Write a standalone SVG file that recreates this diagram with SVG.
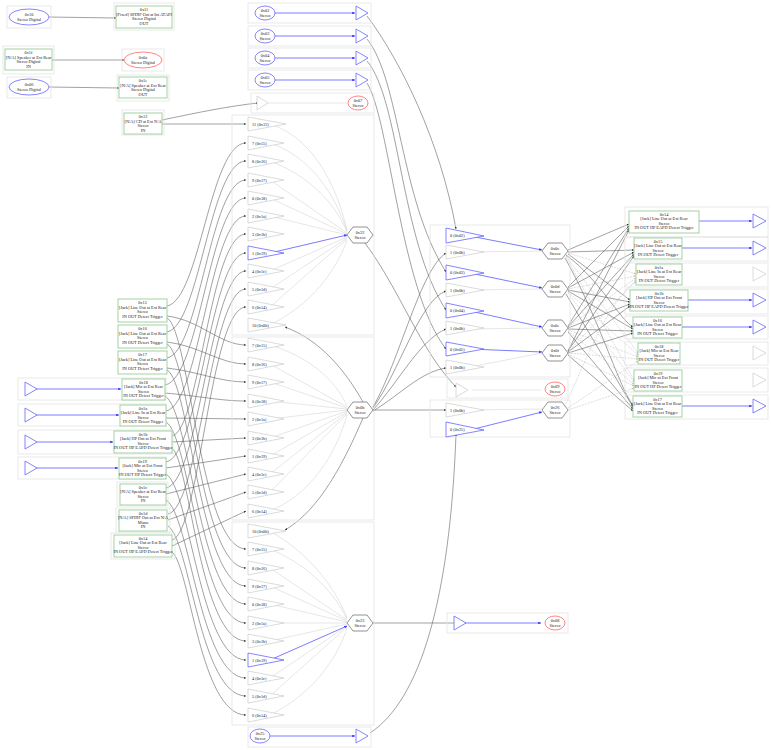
<svg xmlns="http://www.w3.org/2000/svg" width="771" height="750" viewBox="0 0 771 750">
<defs>
<marker id="a" viewBox="0 0 6 6" refX="6" refY="3" markerWidth="4" markerHeight="4" orient="auto"><path d="M0,0L6,3L0,6z" fill="#333"/></marker>
<marker id="ab" viewBox="0 0 6 6" refX="6" refY="3" markerWidth="4" markerHeight="4" orient="auto"><path d="M0,0L6,3L0,6z" fill="#33f"/></marker>
<marker id="al" viewBox="0 0 6 6" refX="6" refY="3" markerWidth="4" markerHeight="4" orient="auto"><path d="M0,0L6,3L0,6z" fill="#bbb"/></marker>
</defs>
<style>
text{font-family:"Liberation Serif",serif;font-size:4.3px;fill:#222;text-anchor:middle}
.l{text-anchor:start}
.g{fill:none;stroke:#e3e3e3;stroke-width:0.8}
.p{fill:#fff;stroke:#9c9;stroke-width:0.9}
.eb{fill:#fff;stroke:#66f;stroke-width:0.8}
.er{fill:#fff;stroke:#f66;stroke-width:0.8}
.tb{fill:#fff;stroke:#66f;stroke-width:0.8}
.tg{fill:#fff;stroke:#ccc;stroke-width:0.7}
.hx{fill:#fff;stroke:#777;stroke-width:0.8}
.c{fill:none;stroke:#555;stroke-width:0.55;marker-end:url(#a)}
.cb{fill:none;stroke:#44f;stroke-width:0.7;marker-end:url(#ab)}
.cl{fill:none;stroke:#ccc;stroke-width:0.5}
.cd{fill:none;stroke:#bbb;stroke-width:0.5;stroke-dasharray:2,1;marker-end:url(#al)}
</style>
<rect width="771" height="750" fill="#fff"/>

<g id="connectors">
<path class="c" d="M49,17L116,18"/>
<path class="c" d="M52,60L124,60"/>
<path class="c" d="M49,87L119,88"/>
<path class="c" d="M162,120C200,112 230,106 258,103"/>
<path class="c" d="M162,124L246,124"/>
<path class="cb" d="M275,13L355,13"/>
<path class="cb" d="M275,36L355,36"/>
<path class="cb" d="M275,58L355,58"/>
<path class="cb" d="M275,80L355,80"/>
<path class="cl" d="M268,103L347,103"/>
<path class="cb" d="M270,736L355,736"/>
<path class="c" d="M367,16C400,60 440,140 456,229"/>
<path class="c" d="M367,39C400,80 400,200 446,272"/>
<path class="c" d="M367,61C400,100 400,240 446,310"/>
<path class="c" d="M367,83C390,120 400,290 446,349"/>
<path class="c" d="M370,733C420,700 450,600 456,434"/>
<g class="cl">
<path d="M270,124C320,140 340,200 347,230"/><path d="M270,143C320,160 340,210 347,231"/><path d="M270,161C320,180 340,215 347,232"/><path d="M270,180L347,233"/><path d="M270,198L347,234"/><path d="M270,216L347,235"/><path d="M270,271L347,237"/><path d="M270,289L347,238"/><path d="M270,307L347,239"/><path d="M270,325C320,300 340,260 347,240"/>
</g>
<path class="cb" d="M270,253L347,235"/>
<g class="cl">
<path d="M270,345C320,360 340,390 347,406"/><path d="M270,364L347,407"/><path d="M270,382L347,408"/><path d="M270,401L347,409"/><path d="M270,419L347,410"/><path d="M270,438L347,411"/><path d="M270,456L347,412"/><path d="M270,474L347,413"/><path d="M270,492L347,414"/><path d="M270,511C320,490 340,440 347,415"/>
</g>
<g class="cl">
<path d="M270,531C320,560 340,600 347,618"/><path d="M270,549C320,570 340,605 347,619"/><path d="M270,568L347,620"/><path d="M270,586L347,621"/><path d="M270,604L347,622"/><path d="M270,623L347,623"/><path d="M270,641L347,624"/><path d="M270,678L347,626"/><path d="M270,696L347,627"/><path d="M270,715C320,690 340,650 347,628"/>
</g>
<path class="cb" d="M270,660L347,626"/>
<path class="c" d="M365,243C400,290 420,350 456,387"/>
<path class="c" d="M373,623L456,623"/>
<path class="cb" d="M462,623L541,623"/>
<path class="cl" d="M472,390L541,390"/>
<path class="c" d="M363,402C345,370 320,340 285,327"/>
<path class="c" d="M363,418C345,460 320,510 285,530"/>
<path class="c" d="M373,407C400,360 420,270 446,253"/>
<path class="c" d="M373,408C400,370 420,300 446,291"/>
<path class="c" d="M373,410C400,380 420,340 446,329"/>
<path class="c" d="M373,411C400,395 420,372 446,368"/>
<path class="c" d="M373,410L446,410"/>
<path class="cb" d="M470,236L542,250"/><path class="cl" d="M470,252L542,251"/>
<path class="cb" d="M470,273L542,288"/><path class="cl" d="M470,290L542,289"/>
<path class="cb" d="M470,311L542,327"/><path class="cl" d="M470,329L542,328"/>
<path class="cb" d="M470,349L542,352"/><path class="cl" d="M470,367L542,353"/>
<path class="cl" d="M470,410L542,409"/><path class="cb" d="M470,430L542,412"/>
<g>
<path class="c" d="M568,250L629,224"/><path class="c" d="M568,252L634,250"/><path class="cd" d="M568,253L636,274"/><path class="c" d="M568,254L630,300"/><path class="c" d="M566,255C600,280 620,320 633,327"/><path class="cd" d="M566,256L638,353"/><path class="cd" d="M566,257L634,380"/><path class="c" d="M565,258C600,320 620,390 633,405"/>
<path class="c" d="M568,287L629,226"/><path class="c" d="M568,288L634,252"/><path class="cd" d="M568,289L636,276"/><path class="c" d="M568,290L630,302"/><path class="c" d="M568,291L633,329"/><path class="cd" d="M568,292L638,355"/><path class="cd" d="M568,293L634,382"/><path class="c" d="M566,294L633,407"/>
<path class="c" d="M568,326L629,228"/><path class="c" d="M568,327L634,254"/><path class="cd" d="M568,327L636,278"/><path class="c" d="M568,328L630,304"/><path class="c" d="M568,329L633,331"/><path class="cd" d="M568,330L638,357"/><path class="cd" d="M568,331L634,384"/><path class="c" d="M568,332L633,409"/>
<path class="c" d="M568,351L629,230"/><path class="c" d="M568,351L634,256"/><path class="cd" d="M568,352L636,280"/><path class="c" d="M568,352L630,306"/><path class="c" d="M568,353L633,333"/><path class="cd" d="M568,353L638,359"/><path class="cd" d="M568,354L634,386"/><path class="c" d="M568,355L633,411"/>
<path class="cd" d="M566,404C590,350 610,300 636,282"/><path class="cd" d="M568,408L638,361"/><path class="cd" d="M568,410L634,388"/>
</g>
<path class="cb" d="M699,221L752,221"/><path class="cb" d="M682,248L752,248"/><path class="cb" d="M688,300L752,300"/><path class="cb" d="M682,327L752,327"/><path class="cb" d="M682,406L752,406"/>
<path class="cb" d="M36,389L121,389"/><path class="cb" d="M36,415L119,415"/><path class="cb" d="M36,442L113,442"/><path class="cb" d="M36,468L118,468"/>
<g class="c">
<path d="M167,306C200,300 210,143 246,143"/><path d="M167,316C200,320 220,345 246,345"/><path d="M167,318C190,330 200,549 246,549"/>
<path d="M167,332C200,326 210,161 246,161"/><path d="M167,342C200,346 220,364 246,364"/><path d="M167,344C190,356 200,568 246,568"/>
<path d="M167,358C200,352 210,180 246,180"/><path d="M167,368C200,372 220,382 246,382"/><path d="M167,370C190,382 200,586 246,586"/>
<path d="M165,385C200,379 210,198 246,198"/><path d="M165,393C200,396 220,401 246,401"/><path d="M165,396C190,410 200,604 246,604"/>
<path d="M166,411C200,405 210,216 246,216"/><path d="M166,418L246,419"/><path d="M166,422C190,436 200,623 246,623"/>
<path d="M172,436C200,430 210,234 246,234"/><path d="M172,442L246,438"/><path d="M172,448C190,462 200,641 246,641"/>
<path d="M166,462C200,456 210,253 246,253"/><path d="M166,468L246,456"/><path d="M166,474C190,488 200,660 246,660"/>
<path d="M166,488C200,482 210,271 246,271"/><path d="M166,494L246,474"/><path d="M166,500C190,514 200,678 246,678"/>
<path d="M168,514C200,508 210,289 246,289"/><path d="M168,520L246,492"/><path d="M168,526C190,540 200,696 246,696"/>
<path d="M172,540C200,534 210,307 246,307"/><path d="M172,546L246,511"/><path d="M172,552C190,566 200,715 246,715"/>
</g>
</g>

<g id="clusters">
<rect class="g" x="7" y="6" width="44" height="22"/>
<rect class="g" x="114" y="3" width="60" height="27"/>
<rect class="g" x="3" y="46" width="51" height="28"/>
<rect class="g" x="122" y="49" width="42" height="22"/>
<rect class="g" x="7" y="77" width="44" height="21"/>
<rect class="g" x="117" y="75" width="52" height="26"/>
<rect class="g" x="122" y="110" width="42" height="25"/>
<rect class="g" x="248" y="3" width="123" height="20"/>
<rect class="g" x="248" y="26" width="123" height="20"/>
<rect class="g" x="248" y="48" width="123" height="20"/>
<rect class="g" x="248" y="70" width="123" height="20"/>
<rect class="g" x="251" y="93" width="123" height="20"/>
<rect class="g" x="232" y="115" width="142" height="220"/>
<rect class="g" x="232" y="337" width="142" height="183"/>
<rect class="g" x="232" y="522" width="142" height="203"/>
<rect class="g" x="248" y="727" width="123" height="20"/>
<rect class="g" x="430" y="225" width="140" height="152"/>
<rect class="g" x="447" y="379" width="121" height="19"/>
<rect class="g" x="430" y="400" width="140" height="37"/>
<rect class="g" x="447" y="613" width="121" height="20"/>
<rect class="g" x="18" y="378" width="148" height="22"/>
<rect class="g" x="18" y="404" width="148" height="22"/>
<rect class="g" x="18" y="430" width="155" height="24"/>
<rect class="g" x="18" y="457" width="148" height="22"/>
<rect class="g" x="625" y="207" width="143" height="30"/>
<rect class="g" x="625" y="237" width="143" height="24"/>
<rect class="g" x="625" y="263" width="143" height="24"/>
<rect class="g" x="625" y="289" width="143" height="25"/>
<rect class="g" x="625" y="316" width="143" height="23"/>
<rect class="g" x="625" y="342" width="143" height="23"/>
<rect class="g" x="625" y="368" width="143" height="24"/>
<rect class="g" x="625" y="395" width="143" height="24"/>
</g>

<g id="n10"><ellipse class="eb" cx="29" cy="17" rx="20" ry="8"/><text x="29" y="16">0x10</text><text x="29" y="20.5">Stereo Digital</text></g>
<g id="n11"><rect class="p" x="116" y="6" width="56" height="22"/><text x="144" y="11">0x11</text><text x="144" y="15.5">[Fixed] SPDIF Out at Int ATAPI</text><text x="144" y="20">Stereo Digital</text><text x="144" y="24.5">OUT</text></g>
<g id="n1f"><rect class="p" x="5" y="49" width="47" height="21"/><text x="28.5" y="54">0x1f</text><text x="28.5" y="58.5">[N/A] Speaker at Ext Rear</text><text x="28.5" y="63">Stereo Digital</text><text x="28.5" y="67.5">IN</text></g>
<g id="n0a"><ellipse class="er" cx="143" cy="60" rx="19" ry="8"/><text x="143" y="59">0x0a</text><text x="143" y="63.5">Stereo Digital</text></g>
<g id="n06"><ellipse class="eb" cx="29" cy="87" rx="20" ry="8"/><text x="29" y="86">0x06</text><text x="29" y="90.5">Stereo Digital</text></g>
<g id="n1e"><rect class="p" x="119" y="77" width="48" height="21"/><text x="143" y="82">0x1e</text><text x="143" y="86.5">[N/A] Speaker at Ext Rear</text><text x="143" y="91">Stereo Digital</text><text x="143" y="95.5">OUT</text></g>
<g id="n12"><rect class="p" x="124" y="113" width="38" height="21"/><text x="143" y="118">0x12</text><text x="143" y="122.5">[N/A] CD at Ext N/A</text><text x="143" y="127">Stereo</text><text x="143" y="131.5">IN</text></g>

<g id="n02"><ellipse class="eb" cx="265" cy="13" rx="10" ry="7"/><text x="265" y="12">0x02</text><text x="265" y="16.5">Stereo</text><polygon class="tb" points="356,6 368,13 356,20"/></g>
<g id="n03"><ellipse class="eb" cx="265" cy="36" rx="10" ry="7"/><text x="265" y="35">0x03</text><text x="265" y="39.5">Stereo</text><polygon class="tb" points="356,29 368,36 356,43"/></g>
<g id="n04"><ellipse class="eb" cx="265" cy="58" rx="10" ry="7"/><text x="265" y="57">0x04</text><text x="265" y="61.5">Stereo</text><polygon class="tb" points="356,51 368,58 356,65"/></g>
<g id="n05"><ellipse class="eb" cx="265" cy="80" rx="10" ry="7"/><text x="265" y="79">0x05</text><text x="265" y="83.5">Stereo</text><polygon class="tb" points="356,73 368,80 356,87"/></g>
<g id="n07"><polygon class="tg" points="257,96 268,103 257,110"/><ellipse class="er" cx="358" cy="103" rx="10" ry="7"/><text x="358" y="102">0x07</text><text x="358" y="106.5">Stereo</text></g>
<g id="n25"><ellipse class="eb" cx="260" cy="736" rx="10" ry="7"/><text x="260" y="735">0x25</text><text x="260" y="739.5">Stereo</text><polygon class="tb" points="356,729 368,736 356,743"/></g>

<g id="n22">
<polygon class="tg" points="248,117 286,124 248,131"/><text class="l" x="252" y="125.5">11 (0x12)</text>
<polygon class="tg" points="248,136 284,143 248,150"/><text class="l" x="252" y="144.5">7 (0x15)</text>
<polygon class="tg" points="248,154 284,161 248,168"/><text class="l" x="252" y="162.5">8 (0x16)</text>
<polygon class="tg" points="248,173 284,180 248,187"/><text class="l" x="252" y="181.5">9 (0x17)</text>
<polygon class="tg" points="248,191 284,198 248,205"/><text class="l" x="252" y="199.5">0 (0x18)</text>
<polygon class="tg" points="248,209 284,216 248,223"/><text class="l" x="252" y="217.5">2 (0x1a)</text>
<polygon class="tg" points="248,227 284,234 248,241"/><text class="l" x="252" y="235.5">3 (0x1b)</text>
<polygon class="tb" points="248,246 284,253 248,260"/><text class="l" x="252" y="254.5">1 (0x19)</text>
<polygon class="tg" points="248,264 284,271 248,278"/><text class="l" x="252" y="272.5">4 (0x1c)</text>
<polygon class="tg" points="248,282 284,289 248,296"/><text class="l" x="252" y="290.5">5 (0x1d)</text>
<polygon class="tg" points="248,300 284,307 248,314"/><text class="l" x="252" y="308.5">6 (0x14)</text>
<polygon class="tg" points="248,318 286,325 248,332"/><text class="l" x="252" y="326.5">10 (0x0b)</text>
<polygon class="hx" points="347,235 353,227 367,227 373,235 367,243 353,243"/><text x="360" y="234">0x22</text><text x="360" y="238.5">Stereo</text>
</g>
<g id="n0b">
<polygon class="tg" points="248,338 284,345 248,352"/><text class="l" x="252" y="346.5">7 (0x15)</text>
<polygon class="tg" points="248,357 284,364 248,371"/><text class="l" x="252" y="365.5">8 (0x16)</text>
<polygon class="tg" points="248,375 284,382 248,389"/><text class="l" x="252" y="383.5">9 (0x17)</text>
<polygon class="tg" points="248,394 284,401 248,408"/><text class="l" x="252" y="402.5">0 (0x18)</text>
<polygon class="tg" points="248,412 284,419 248,426"/><text class="l" x="252" y="420.5">2 (0x1a)</text>
<polygon class="tg" points="248,431 284,438 248,445"/><text class="l" x="252" y="439.5">3 (0x1b)</text>
<polygon class="tg" points="248,449 284,456 248,463"/><text class="l" x="252" y="457.5">1 (0x19)</text>
<polygon class="tg" points="248,467 284,474 248,481"/><text class="l" x="252" y="475.5">4 (0x1c)</text>
<polygon class="tg" points="248,485 284,492 248,499"/><text class="l" x="252" y="493.5">5 (0x1d)</text>
<polygon class="tg" points="248,504 284,511 248,518"/><text class="l" x="252" y="512.5">6 (0x14)</text>
<polygon class="hx" points="347,410 353,402 367,402 373,410 367,418 353,418"/><text x="360" y="409">0x0b</text><text x="360" y="413.5">Stereo</text>
</g>
<g id="n23">
<polygon class="tg" points="248,524 286,531 248,538"/><text class="l" x="252" y="532.5">10 (0x0b)</text>
<polygon class="tg" points="248,542 284,549 248,556"/><text class="l" x="252" y="550.5">7 (0x15)</text>
<polygon class="tg" points="248,561 284,568 248,575"/><text class="l" x="252" y="569.5">8 (0x16)</text>
<polygon class="tg" points="248,579 284,586 248,593"/><text class="l" x="252" y="587.5">9 (0x17)</text>
<polygon class="tg" points="248,597 284,604 248,611"/><text class="l" x="252" y="605.5">0 (0x18)</text>
<polygon class="tg" points="248,616 284,623 248,630"/><text class="l" x="252" y="624.5">2 (0x1a)</text>
<polygon class="tg" points="248,634 284,641 248,648"/><text class="l" x="252" y="642.5">3 (0x1b)</text>
<polygon class="tb" points="248,653 284,660 248,667"/><text class="l" x="252" y="661.5">1 (0x19)</text>
<polygon class="tg" points="248,671 284,678 248,685"/><text class="l" x="252" y="679.5">4 (0x1c)</text>
<polygon class="tg" points="248,689 284,696 248,703"/><text class="l" x="252" y="697.5">5 (0x1d)</text>
<polygon class="tg" points="248,708 284,715 248,722"/><text class="l" x="252" y="716.5">6 (0x14)</text>
<polygon class="hx" points="347,623 353,615 367,615 373,623 367,631 353,631"/><text x="360" y="622">0x23</text><text x="360" y="626.5">Stereo</text>
</g>

<g id="n0c"><polygon class="tb" points="446,228 484,236 446,243"/><text class="l" x="450" y="237">0 (0x02)</text><polygon class="tg" points="446,245 484,252 446,259"/><text class="l" x="450" y="253.5">1 (0x0b)</text><polygon class="hx" points="542,251 548,243 562,243 568,251 562,259 548,259"/><text x="555" y="250">0x0c</text><text x="555" y="254.5">Stereo</text></g>
<g id="n0d"><polygon class="tb" points="446,265 484,273 446,280"/><text class="l" x="450" y="274">0 (0x03)</text><polygon class="tg" points="446,283 484,290 446,297"/><text class="l" x="450" y="291.5">1 (0x0b)</text><polygon class="hx" points="542,289 548,281 562,281 568,289 562,297 548,297"/><text x="555" y="288">0x0d</text><text x="555" y="292.5">Stereo</text></g>
<g id="n0e"><polygon class="tb" points="446,303 484,311 446,318"/><text class="l" x="450" y="312">0 (0x04)</text><polygon class="tg" points="446,321 484,328 446,335"/><text class="l" x="450" y="329.5">1 (0x0b)</text><polygon class="hx" points="542,328 548,320 562,320 568,328 562,336 548,336"/><text x="555" y="327">0x0e</text><text x="555" y="331.5">Stereo</text></g>
<g id="n0f"><polygon class="tb" points="446,342 484,349 446,356"/><text class="l" x="450" y="350.5">0 (0x05)</text><polygon class="tg" points="446,360 484,367 446,374"/><text class="l" x="450" y="368.5">1 (0x0b)</text><polygon class="hx" points="542,353 548,345 562,345 568,353 562,361 548,361"/><text x="555" y="352">0x0f</text><text x="555" y="356.5">Stereo</text></g>
<g id="n09"><polygon class="tg" points="456,383 468,390 456,397"/><ellipse class="er" cx="555" cy="389" rx="10" ry="7"/><text x="555" y="388">0x09</text><text x="555" y="392.5">Stereo</text></g>
<g id="n26"><polygon class="tg" points="446,403 484,410 446,417"/><text class="l" x="450" y="411.5">1 (0x0b)</text><polygon class="tb" points="446,422 484,430 446,437"/><text class="l" x="450" y="431">0 (0x25)</text><polygon class="hx" points="542,410 548,402 562,402 568,410 562,418 548,418"/><text x="555" y="409">0x26</text><text x="555" y="413.5">Stereo</text></g>
<g id="n08"><polygon class="tb" points="454,616 466,623 454,630"/><ellipse class="er" cx="555" cy="623" rx="10" ry="7"/><text x="555" y="622">0x08</text><text x="555" y="626.5">Stereo</text></g>

<g id="L15"><rect class="p" x="118" y="299" width="49" height="23"/><text x="142.5" y="304">0x15</text><text x="142.5" y="308.5">[Jack] Line Out at Ext Rear</text><text x="142.5" y="313">Stereo</text><text x="142.5" y="317.5">IN OUT Detect Trigger</text></g>
<g id="L16"><rect class="p" x="118" y="325" width="49" height="23"/><text x="142.5" y="330">0x16</text><text x="142.5" y="334.5">[Jack] Line Out at Ext Rear</text><text x="142.5" y="339">Stereo</text><text x="142.5" y="343.5">IN OUT Detect Trigger</text></g>
<g id="L17"><rect class="p" x="118" y="351" width="49" height="23"/><text x="142.5" y="356">0x17</text><text x="142.5" y="360.5">[Jack] Line Out at Ext Rear</text><text x="142.5" y="365">Stereo</text><text x="142.5" y="369.5">IN OUT Detect Trigger</text></g>
<g id="L18"><polygon class="tb" points="25,382 37,389 25,396"/><rect class="p" x="122" y="379" width="43" height="21"/><text x="143.5" y="383.5">0x18</text><text x="143.5" y="388">[Jack] Mic at Ext Rear</text><text x="143.5" y="392.5">Stereo</text><text x="143.5" y="397">IN OUT Detect Trigger</text></g>
<g id="L1a"><polygon class="tb" points="25,408 37,415 25,422"/><rect class="p" x="120" y="405" width="46" height="21"/><text x="143" y="409.5">0x1a</text><text x="143" y="414">[Jack] Line In at Ext Rear</text><text x="143" y="418.5">Stereo</text><text x="143" y="423">IN OUT Detect Trigger</text></g>
<g id="L1b"><polygon class="tb" points="25,435 37,442 25,449"/><rect class="p" x="114" y="431" width="58" height="22"/><text x="143" y="435.5">0x1b</text><text x="143" y="440">[Jack] HP Out at Ext Front</text><text x="143" y="444.5">Stereo</text><text x="143" y="449">IN OUT HP EAPD Detect Trigger</text></g>
<g id="L19"><polygon class="tb" points="25,461 37,468 25,475"/><rect class="p" x="119" y="458" width="47" height="21"/><text x="142.5" y="462.5">0x19</text><text x="142.5" y="467">[Jack] Mic at Ext Front</text><text x="142.5" y="471.5">Stereo</text><text x="142.5" y="476">IN OUT HP Detect Trigger</text></g>
<g id="L1c"><rect class="g" x="117" y="482" width="51" height="24"/><rect class="p" x="120" y="484" width="46" height="21"/><text x="143" y="488.5">0x1c</text><text x="143" y="493">[N/A] Speaker at Ext Rear</text><text x="143" y="497.5">Stereo</text><text x="143" y="502">IN</text></g>
<g id="L1d"><rect class="g" x="116" y="508" width="54" height="24"/><rect class="p" x="119" y="510" width="48" height="21"/><text x="143" y="514.5">0x1d</text><text x="143" y="519">[N/A] SPDIF Out at Ext N/A</text><text x="143" y="523.5">Mono</text><text x="143" y="528">IN</text></g>
<g id="L14"><rect class="g" x="111" y="533" width="64" height="26"/><rect class="p" x="114" y="535" width="58" height="22"/><text x="143" y="539.5">0x14</text><text x="143" y="544">[Jack] Line Out at Ext Rear</text><text x="143" y="548.5">Stereo</text><text x="143" y="553">IN OUT HP EAPD Detect Trigger</text></g>

<g id="R14"><rect class="p" x="629" y="211" width="70" height="22"/><text x="664" y="215.5">0x14</text><text x="664" y="220">[Jack] Line Out at Ext Rear</text><text x="664" y="224.5">Stereo</text><text x="664" y="229">IN OUT HP EAPD Detect Trigger</text><polygon class="tb" points="753,214 766,221 753,228"/></g>
<g id="R15"><rect class="p" x="634" y="238" width="48" height="21"/><text x="658" y="242.5">0x15</text><text x="658" y="247">[Jack] Line Out at Ext Rear</text><text x="658" y="251.5">Stereo</text><text x="658" y="256">IN OUT Detect Trigger</text><polygon class="tb" points="753,241 766,248 753,255"/></g>
<g id="R1a"><rect class="p" x="636" y="264" width="46" height="21"/><text x="659" y="268.5">0x1a</text><text x="659" y="273">[Jack] Line In at Ext Rear</text><text x="659" y="277.5">Stereo</text><text x="659" y="282">IN OUT Detect Trigger</text><polygon class="tg" points="753,267 766,274 753,281"/></g>
<g id="R1b"><rect class="p" x="630" y="290" width="58" height="21"/><text x="659" y="294.5">0x1b</text><text x="659" y="299">[Jack] HP Out at Ext Front</text><text x="659" y="303.5">Stereo</text><text x="659" y="308">IN OUT HP EAPD Detect Trigger</text><polygon class="tb" points="753,293 766,300 753,307"/></g>
<g id="R16"><rect class="p" x="633" y="317" width="49" height="21"/><text x="657.5" y="321.5">0x16</text><text x="657.5" y="326">[Jack] Line Out at Ext Rear</text><text x="657.5" y="330.5">Stereo</text><text x="657.5" y="335">IN OUT Detect Trigger</text><polygon class="tb" points="753,320 766,327 753,334"/></g>
<g id="R18"><rect class="p" x="638" y="343" width="42" height="21"/><text x="659" y="347.5">0x18</text><text x="659" y="352">[Jack] Mic at Ext Rear</text><text x="659" y="356.5">Stereo</text><text x="659" y="361">IN OUT Detect Trigger</text><polygon class="tg" points="753,346 766,353 753,360"/></g>
<g id="R19"><rect class="p" x="634" y="370" width="48" height="21"/><text x="658" y="374.5">0x19</text><text x="658" y="379">[Jack] Mic at Ext Front</text><text x="658" y="383.5">Stereo</text><text x="658" y="388">IN OUT HP Detect Trigger</text><polygon class="tg" points="753,373 766,380 753,387"/></g>
<g id="R17"><rect class="p" x="633" y="396" width="49" height="21"/><text x="657.5" y="400.5">0x17</text><text x="657.5" y="405">[Jack] Line Out at Ext Rear</text><text x="657.5" y="409.5">Stereo</text><text x="657.5" y="414">IN OUT Detect Trigger</text><polygon class="tb" points="753,399 766,406 753,413"/></g>
</svg>
